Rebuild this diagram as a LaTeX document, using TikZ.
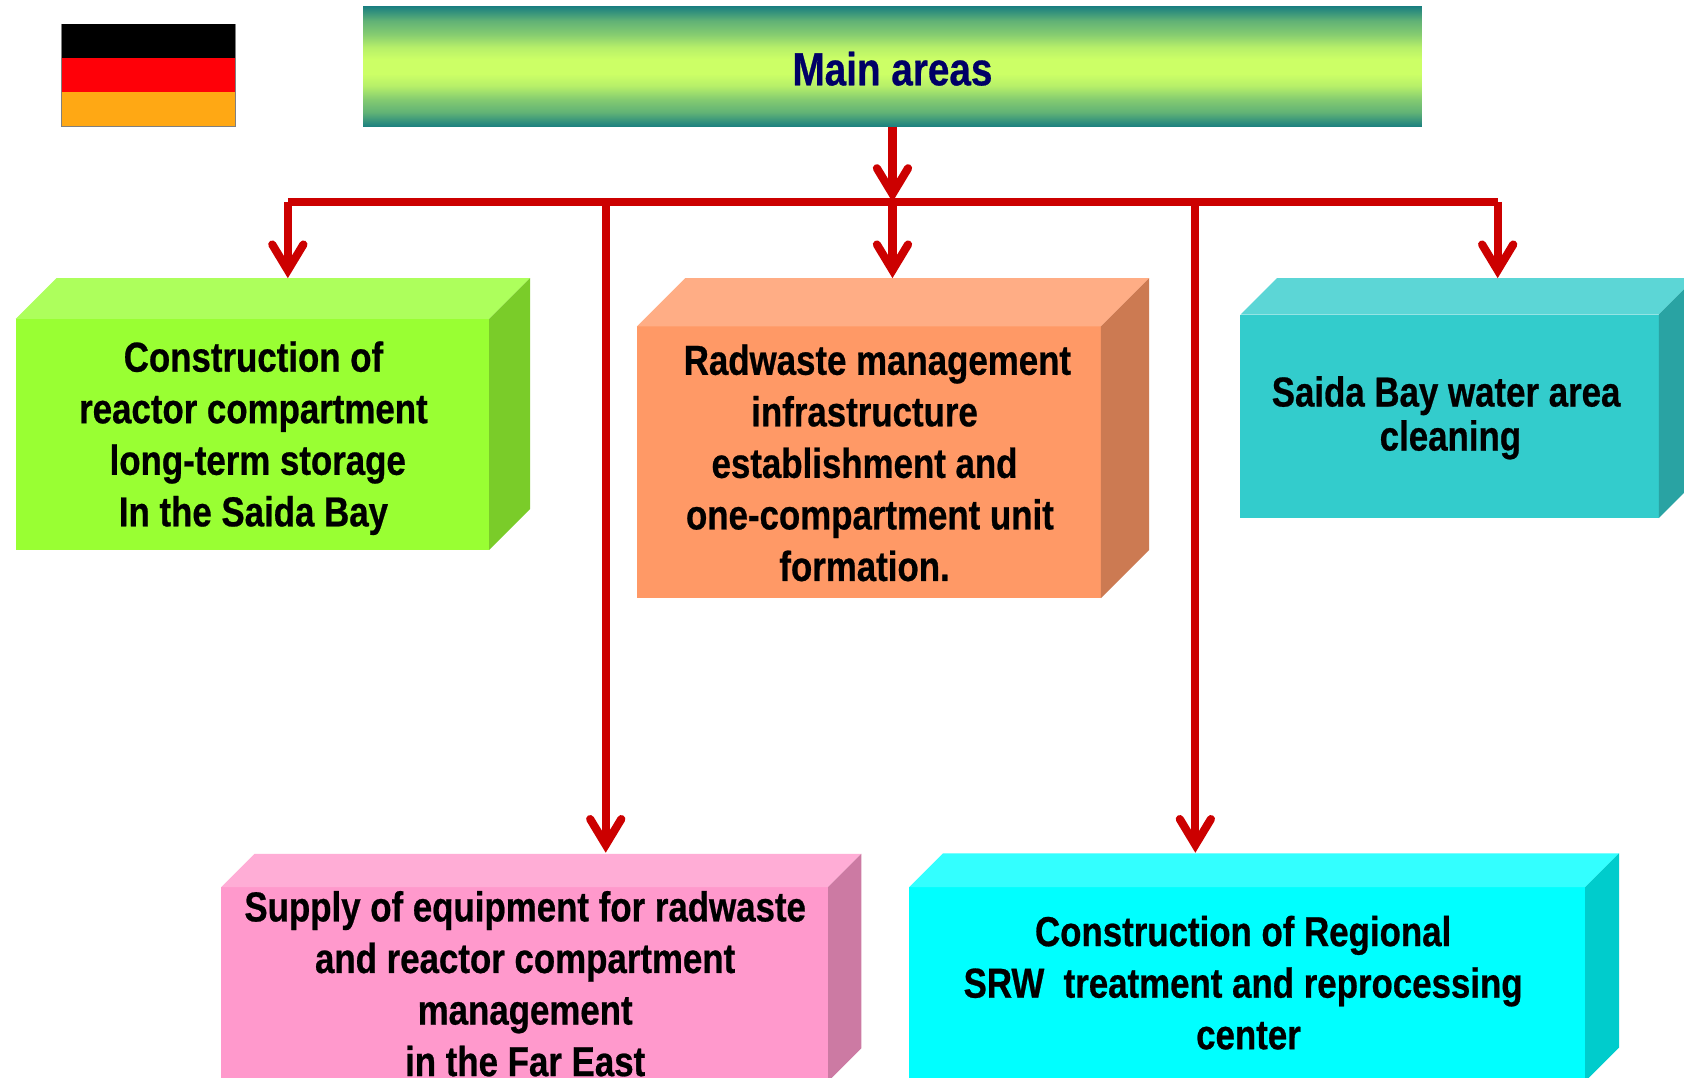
\documentclass[tikz,border=0pt]{standalone}
\usepackage{fontspec}
\setmainfont[FakeStretch=0.832,BoldFeatures={FakeStretch=0.832,FakeBold=0.6}]{Liberation Sans}
\usetikzlibrary{arrows.meta}
\definecolor{connred}{HTML}{CC0000}
\definecolor{titleteal}{HTML}{1A7F80}
\definecolor{titlelime}{HTML}{CCFF66}
\definecolor{titlenavy}{HTML}{000066}
\definecolor{flagred}{HTML}{FF0008}
\definecolor{flagorange}{HTML}{FFA814}
\definecolor{gf}{HTML}{99FF33}\definecolor{gt}{HTML}{ADFF5C}\definecolor{gs}{HTML}{7ACC29}
\definecolor{of}{HTML}{FF9966}\definecolor{ot}{HTML}{FFAD85}\definecolor{os}{HTML}{CC7A52}
\definecolor{tf}{HTML}{33CCCC}\definecolor{tt}{HTML}{5CD6D6}\definecolor{ts}{HTML}{29A3A3}
\definecolor{pf}{HTML}{FF99CC}\definecolor{pt}{HTML}{FFADD6}\definecolor{ps}{HTML}{CC7AA3}
\definecolor{cf}{HTML}{00FFFF}\definecolor{ct}{HTML}{33FFFF}\definecolor{cs}{HTML}{00CCCC}
\pgfdeclareverticalshading{titleband}{100bp}{
  color(0bp)=(titleteal); color(25bp)=(titleteal); color(31bp)=(titleteal!60!titlelime); color(36.5bp)=(titlelime!60!titleteal);
  color(42bp)=(titlelime!88!titleteal); color(47bp)=(titlelime); color(53bp)=(titlelime); color(58bp)=(titlelime!88!titleteal);
  color(63.5bp)=(titlelime!60!titleteal); color(69bp)=(titleteal!60!titlelime); color(75bp)=(titleteal); color(100bp)=(titleteal)}
\tikzset{
  conn/.style={draw=connred,line width=7.6pt},
  connarrow/.style={conn,-{Straight Barb[length=24pt,width=29pt,line width=7.6pt,line cap=round,line join=miter]}},
  frontbox/.style={anchor=north west,inner sep=0pt,outer sep=0pt,minimum width=#1},
  boxlabel/.style={align=center,inner sep=0pt,font=\fontsize{39}{48}\selectfont\bfseries},
}
\newcommand{\blockfaces}[5]{%
  \fill[#3] (#1.north west) -- ++(#5,-#5) -- ([xshift=#5 pt,yshift=#5 pt]#1.north east) -- (#1.north east) -- cycle;
  \fill[#4] (#1.north east) -- ++(#5,-#5) -- ([xshift=#5 pt,yshift=#5 pt]#1.south east) -- (#1.south east) -- cycle;
}
\begin{document}
\begin{tikzpicture}[x=1pt,y=-1pt]
\clip (0,0) rectangle (1568,1003);
\fill[white] (0,0) rectangle (1568,1003);
% flag
\node[anchor=north west,fill=black,minimum width=162pt,minimum height=32pt,inner sep=0pt,outer sep=0pt] (flagtop) at (57,22) {};
\node[anchor=north west,fill=flagred,minimum width=162pt,minimum height=32pt,inner sep=0pt,outer sep=0pt] (flagmid) at (57,54) {};
\node[anchor=north west,fill=flagorange,minimum width=162pt,minimum height=32pt,inner sep=0pt,outer sep=0pt] (flagbot) at (57,86) {};
\draw[gray,line width=1pt] (flagtop.north west) -- (flagbot.south west) -- (flagbot.south east) -- (flagtop.north east);
% title
\node[anchor=north west,minimum width=986pt,minimum height=112pt,inner sep=0pt,outer sep=0pt,
  shading=titleband] (title) at (338,6) {};
\node[text=titlenavy,font=\fontsize{43.3}{48}\selectfont\bfseries,inner sep=0pt] (titletext) at (831,64) {Main areas};
% blocks
\node[frontbox=441pt,minimum height=215pt,fill=gf] (green) at (14.5,297) {};
\blockfaces{green}{}{gt}{gs}{38}
\node[frontbox=432pt,minimum height=253pt,fill=of] (orange) at (593,304) {};
\blockfaces{orange}{}{ot}{os}{45}
\node[frontbox=389.5pt,minimum height=189.5pt,fill=tf] (teal) at (1155,293) {};
\blockfaces{teal}{}{tt}{ts}{34}
\node[frontbox=565pt,minimum height=181pt,fill=pf] (pink) at (206,826) {};
\blockfaces{pink}{}{pt}{ps}{31}
\node[frontbox=629.5pt,minimum height=181pt,fill=cf] (cyan) at (846.5,826) {};
\blockfaces{cyan}{}{ct}{cs}{31.5}
% labels
\node[boxlabel] (greentext) at (236,408) {Construction of\\reactor compartment\\\hspace*{8pt}long-term storage\\In the Saida Bay};
\node[boxlabel] (orangetext) at (805,431) {\hspace*{24pt}Radwaste management\\infrastructure\\establishment and\\\hspace*{10pt}one-compartment unit\\formation.};
\node[boxlabel,font=\fontsize{39}{41}\selectfont\bfseries] (tealtext) at (1346.5,389) {Saida Bay water area\\\hspace*{8pt}cleaning};
\node[boxlabel] (pinktext) at (489,916) {Supply of equipment for radwaste\\and reactor compartment\\management\\in the Far East};
\node[boxlabel] (cyantext) at (1157.5,915) {Construction of Regional\\SRW\ \ treatment and reprocessing\\\hspace*{10pt}center};
% connector coordinates
\coordinate (busmid) at (831,188);
\coordinate (busleft) at (268,188);
\coordinate (busright) at (1394.5,188);
\coordinate (busa) at (564,188);
\coordinate (busb) at (1113,188);
\coordinate (titlefoot) at (831,118);
\coordinate (ingreen) at (268,259);
\coordinate (inorange) at (831,259);
\coordinate (inteal) at (1394.5,259);
\coordinate (inpink) at (564,794);
\coordinate (incyan) at (1113,794);
% connectors
\draw[conn] (busleft) -- (busright);
\draw[connarrow] (titlefoot) -- (busmid);
\draw[connarrow] (busleft) -- (ingreen);
\draw[connarrow] (busmid) -- (inorange);
\draw[connarrow] (busright) -- (inteal);
\draw[connarrow] (busa) -- (inpink);
\draw[connarrow] (busb) -- (incyan);
\end{tikzpicture}
\end{document}
